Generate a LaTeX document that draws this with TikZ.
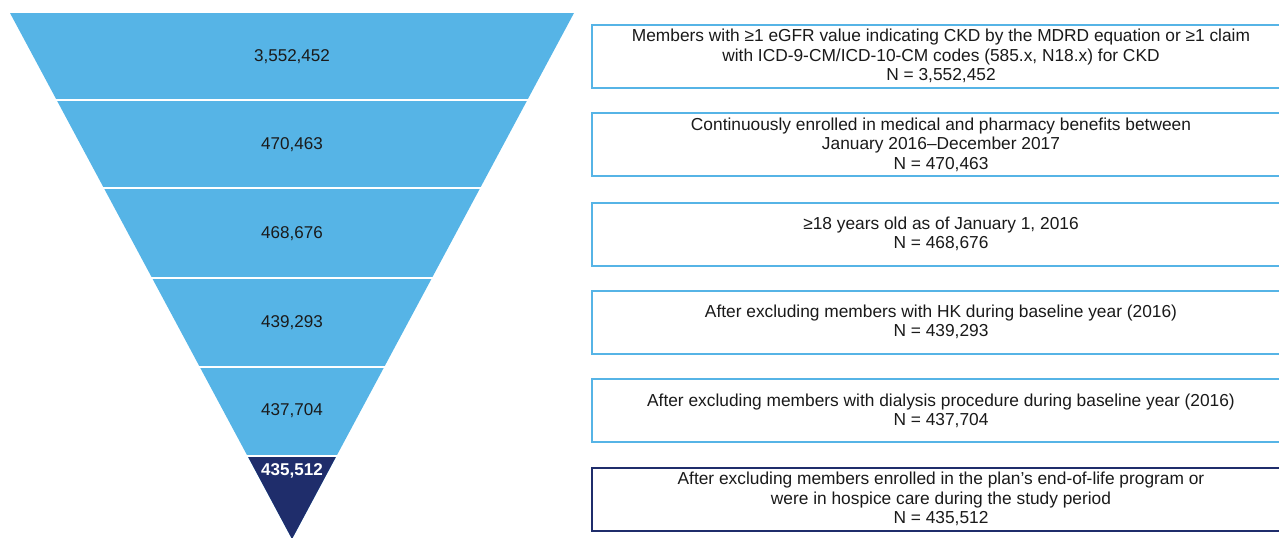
\documentclass[tikz,border=0pt]{standalone}
\usepackage{fontspec}
\setmainfont{Liberation Sans}
\definecolor{lb}{HTML}{56B4E6}
\definecolor{navy}{HTML}{1F2D6B}
\definecolor{txt}{HTML}{1A1A1A}
\begin{document}
\begin{tikzpicture}[x=0.75pt,y=-0.75pt,
  boxstyle/.style={draw=lb, line width=1.5pt, fill=white, minimum width=523.5pt, minimum height=47.25pt, inner sep=0pt, align=center, text=txt, font=\fontsize{13}{14.5}\selectfont},
  numlabel/.style={text=txt, font=\fontsize{12.8}{14}\selectfont, inner sep=0pt}]
\useasboundingbox (0,0) rectangle (1279,537);
% funnel
\fill[lb] (10,13) -- (574,13) -- (292,539) -- cycle;
\fill[navy] (247.6,456) -- (336.4,456) -- (292,539) -- cycle;
\foreach \y in {100,188,278,367,456}
  \draw[white, line width=1.5pt] (0,\y) -- (585,\y);
\node[numlabel] (f1) at (292,57) {3,552,452};
\node[numlabel] (f2) at (292,145) {470,463};
\node[numlabel] (f3) at (292,234) {468,676};
\node[numlabel] (f4) at (292,323) {439,293};
\node[numlabel] (f5) at (292,411) {437,704};
\node[numlabel, text=white, font=\fontsize{12.8}{14}\selectfont\bfseries] (f6) at (292,471) {435,512};
% boxes
\node[boxstyle] (b1) at (941,56) {Members with ≥1 eGFR value indicating CKD by the MDRD equation or ≥1 claim\\with ICD-9-CM/ICD-10-CM codes (585.x, N18.x) for CKD\\N = 3,552,452};
\node[boxstyle] (b2) at (941,144.5) {Continuously enrolled in medical and pharmacy benefits between\\January 2016–December 2017\\N = 470,463};
\node[boxstyle] (b3) at (941,234) {≥18 years old as of January 1, 2016\\N = 468,676};
\node[boxstyle] (b4) at (941,322) {After excluding members with HK during baseline year (2016)\\N = 439,293};
\node[boxstyle] (b5) at (941,410.5) {After excluding members with dialysis procedure during baseline year (2016)\\N = 437,704};
\node[boxstyle, draw=navy] (b6) at (941,499) {After excluding members enrolled in the plan’s end-of-life program or\\were in hospice care during the study period\\N = 435,512};
\end{tikzpicture}
\end{document}
